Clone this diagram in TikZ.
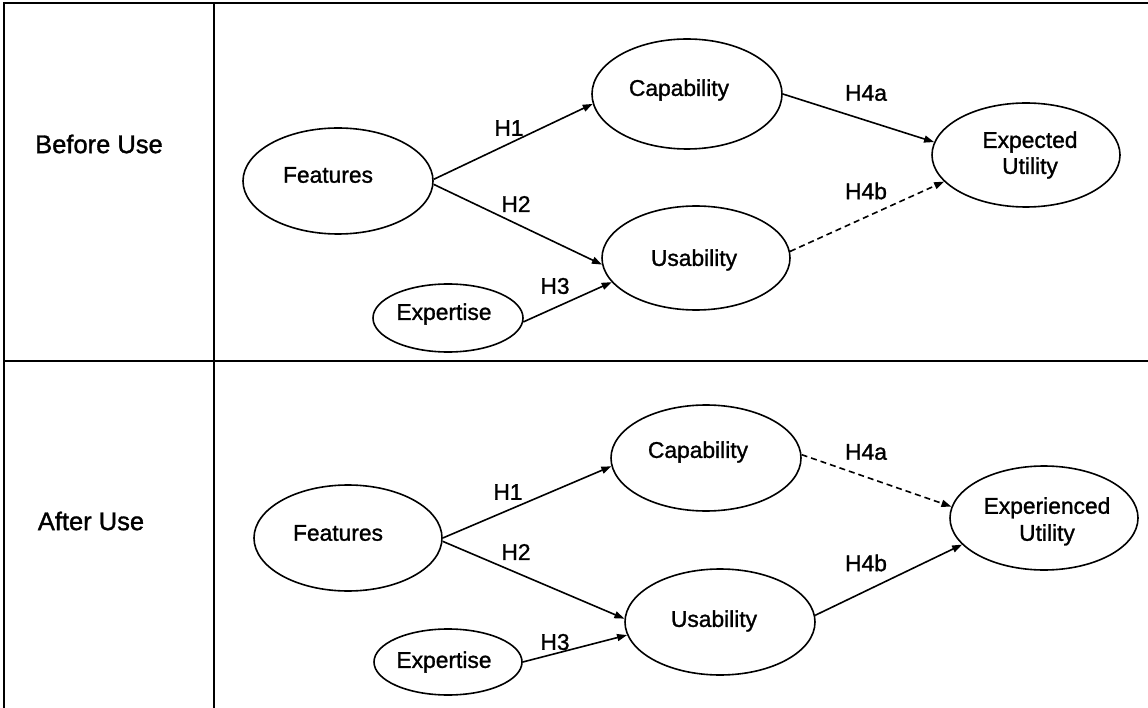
\documentclass[tikz,border=0pt]{standalone}
\usepackage{fontspec}
\setmainfont[FakeBold=1.2]{Liberation Sans}
\usetikzlibrary{shapes.geometric,arrows.meta}
\begin{document}
\begin{tikzpicture}[x=1pt,y=-1pt,
 tbl/.style={line width=2.7pt},
 ell/.style={draw, ellipse, line width=1.6pt, inner sep=0pt},
 txt/.style={font=\fontsize{22.8}{26}\selectfont, inner sep=0pt, align=center},
 hyp/.style={font=\fontsize{22.8}{26}\selectfont, inner sep=0pt},
 arr/.style={line width=1.6pt, -{Triangle[length=10pt,width=7pt]}},
 darr/.style={arr, dash pattern=on 6pt off 4pt},
 side/.style={font=\fontsize{25.5}{28}\selectfont, inner sep=0pt}]
\useasboundingbox (0,0) rectangle (1148,708);
% table
\draw[tbl] (1148,3) -- (4,3) -- (4,708);
\draw[tbl] (214,3) -- (214,708);
\draw[tbl] (4,361) -- (1148,361);
\node[side] (before) at (99,144) {Before Use};
\node[side] (after) at (91,521) {After Use};
% top panel
\node[ell, minimum width=190pt, minimum height=106pt] (f1) at (338,181) {};
\node[ell, minimum width=190pt, minimum height=110pt] (c1) at (687,94) {};
\node[ell, minimum width=188pt, minimum height=104pt] (u1) at (696,258) {};
\node[ell, minimum width=150pt, minimum height=68pt] (x1) at (448,318) {};
\node[ell, minimum width=188pt, minimum height=104pt] (e1) at (1026,155) {};
\node[txt] (f1t) at (328,175) {Features};
\node[txt] (c1t) at (679,90) {Capability};
\node[txt] (u1t) at (694,260) {Usability};
\node[txt] (x1t) at (444,314) {Expertise};
\node[txt] (e1t) at (1030,155) {Expected\\Utility};
\draw[arr] (f1.1) -- (c1.186);
\draw[arr] (f1.-2) -- (u1.184);
\draw[arr] (x1.-3) -- (u1.196);
\draw[arr] (c1.0) -- (e1.172);
\draw[darr] (u1.4) -- (e1.198);
\node[hyp] (h1a) at (509,128) {H1};
\node[hyp] (h2a) at (516,204) {H2};
\node[hyp] (h3a) at (555,286) {H3};
\node[hyp] (h4aa) at (866,93) {H4a};
\node[hyp] (h4ba) at (866,191) {H4b};
% bottom panel
\node[ell, minimum width=188pt, minimum height=106pt] (f2) at (348,538) {};
\node[ell, minimum width=190pt, minimum height=106pt] (c2) at (706,458) {};
\node[ell, minimum width=190pt, minimum height=106pt] (u2) at (720,622) {};
\node[ell, minimum width=148pt, minimum height=66pt] (x2) at (448,662) {};
\node[ell, minimum width=188pt, minimum height=104pt] (e2) at (1044,518) {};
\node[txt] (f2t) at (338,533) {Features};
\node[txt] (c2t) at (698,452) {Capability};
\node[txt] (u2t) at (714,621) {Usability};
\node[txt] (x2t) at (444,662) {Expertise};
\node[txt, text depth=0pt] (e2t) at (1047,519) {Experienced\\[1pt]Utility};
\draw[arr] (f2.0) -- (c2.185);
\draw[arr] (f2.-2) -- (u2.178);
\draw[arr] (x2.0) -- (u2.188);
\draw[darr] (c2.2) -- (e2.173);
\draw[arr] (u2.4) -- (e2.198);
\node[hyp] (h1b) at (508,492) {H1};
\node[hyp] (h2b) at (516,552) {H2};
\node[hyp] (h3b) at (555,642) {H3};
\node[hyp] (h4ab) at (866,452) {H4a};
\node[hyp] (h4bb) at (866,563) {H4b};
\end{tikzpicture}
\end{document}
